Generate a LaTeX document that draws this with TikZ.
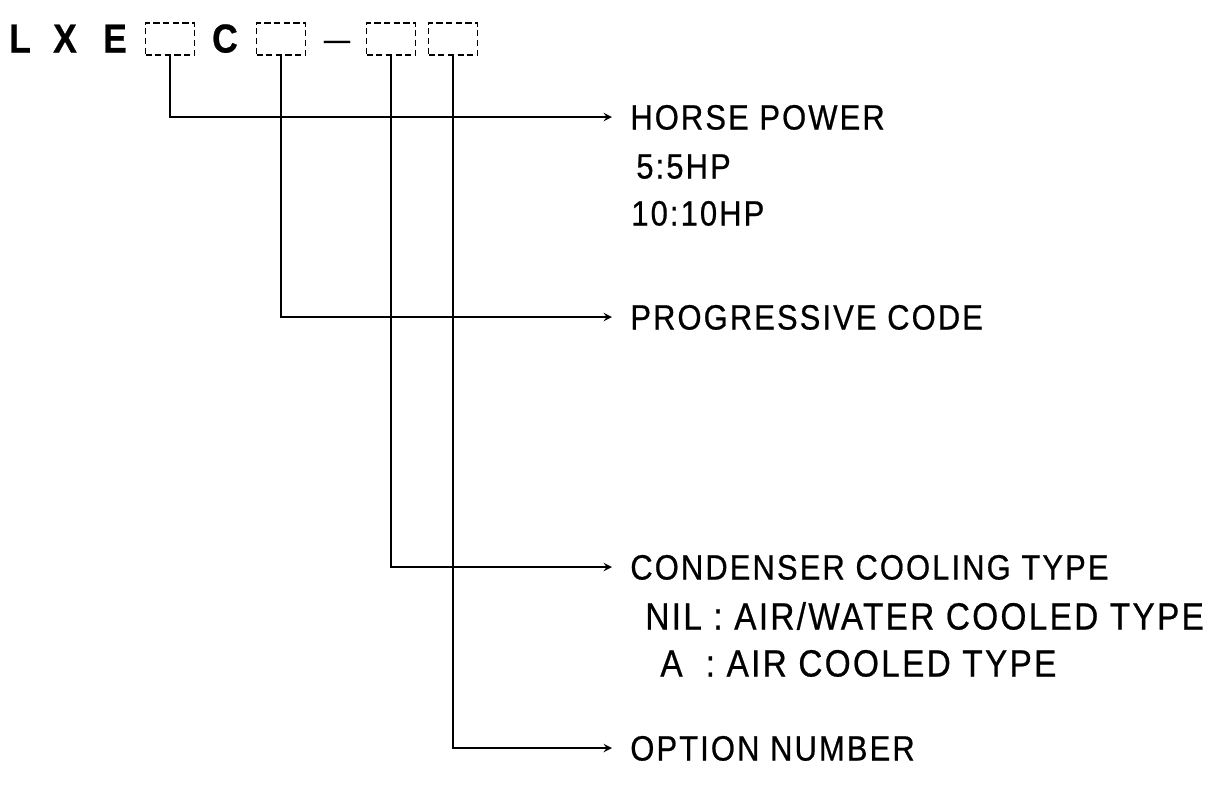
\documentclass[tikz,border=0pt]{standalone}
\usepackage{fontspec}
\setmainfont{Liberation Sans}[LetterSpace=6, FakeStretch=0.88, FakeBold=0.6]
\usepackage{tikz}
\usetikzlibrary{positioning}

\begin{document}
\begin{tikzpicture}[x=0.02cm, y=-0.02cm, >=stealth]
    % 样式
    \tikzstyle{codeletter} = [font=\fontsize{23}{25}\selectfont\bfseries, text height=0.58cm, text depth=0pt, inner sep=0pt]
    \tikzstyle{slot} = [draw, dash pattern=on 3.5pt off 2pt, line width=1pt, minimum width=0.98cm, minimum height=0.64cm, inner sep=0pt]
    \tikzstyle{heading} = [anchor=west, font=\fontsize{20}{22}\selectfont, text height=0.5cm, text depth=0pt, inner ysep=0pt, inner xsep=0.36cm]
    \tikzstyle{sub} = [anchor=west, font=\fontsize{20}{22}\selectfont, text height=0.5cm, text depth=0pt, inner sep=0pt]
    \tikzstyle{subwide} = [sub, font=\fontsize{21.6}{24}\selectfont, text height=0.54cm]
    \tikzstyle{link} = [->, line width=1.1pt]

    \useasboundingbox (0,0) rectangle (1209,785);

    % 型号
    \node[codeletter] (codeL) at (20,38) {L};
    \node[codeletter] (codeX) at (65,38) {X};
    \node[codeletter] (codeE) at (115,38) {E};
    \node[slot] (slotHP) at (170,39) {};
    \node[codeletter] (codeC) at (225,38) {C};
    \node[slot] (slotPC) at (281,39) {};
    \node[codeletter, font=\fontsize{17}{20}\selectfont, yshift=0.06cm] (dash) at (337,38) {—};
    \node[slot] (slotCT) at (391,39) {};
    \node[slot] (slotON) at (453,39) {};

    % 说明
    \node[heading] (horse) at (612,117) {HORSE POWER};
    \node[sub] (hp5) at (636,166) {5:5HP};
    \node[sub] (hp10) at (631,213) {10:10HP};

    \node[heading] (prog) at (612,317) {PROGRESSIVE CODE};

    \node[heading] (cond) at (612,567) {CONDENSER COOLING TYPE};
    \node[subwide] (nil) at (645,616) {NIL : AIR/WATER COOLED TYPE};
    \node[subwide] (aircool) at (660,663) {A \ : AIR COOLED TYPE};

    \node[heading] (option) at (612,748) {OPTION NUMBER};

    % 箭头
    \draw[link] (slotHP.south) |- (horse.west);
    \draw[link] (slotPC.south) |- (prog.west);
    \draw[link] (slotCT.south) |- (cond.west);
    \draw[link] (slotON.south) |- (option.west);
\end{tikzpicture}
\end{document}
